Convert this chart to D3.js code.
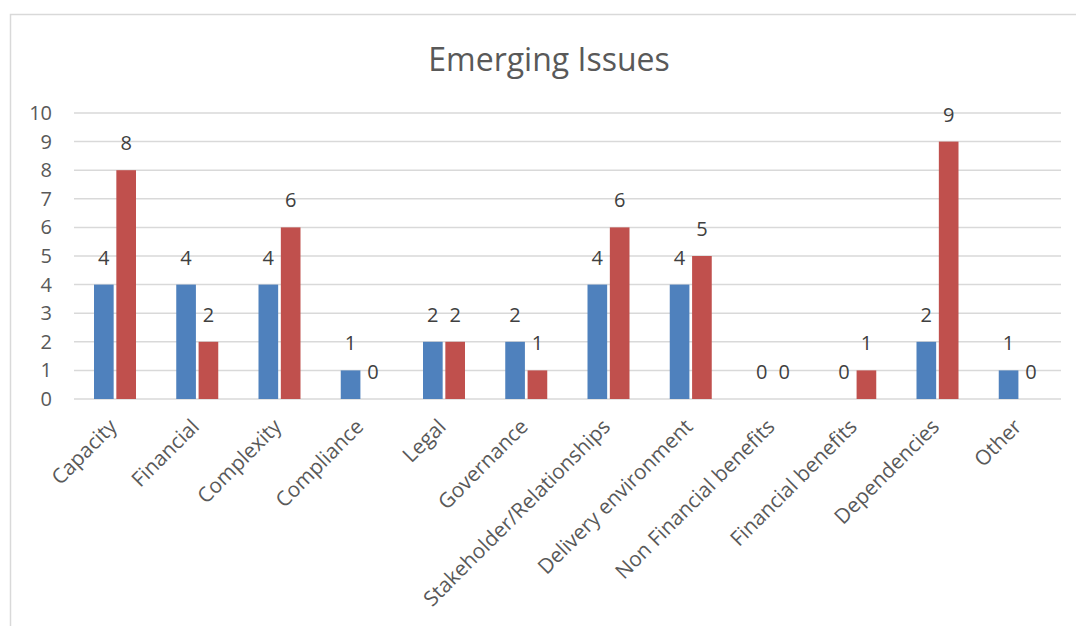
<!DOCTYPE html>
<html>
<head>
<meta charset="utf-8">
<script src="https://cdn.jsdelivr.net/npm/d3@7"></script>
<style>
  body { margin: 0; background: #fff; }
  svg text { font-family: "Open Sans", sans-serif; }
</style>
</head>
<body>
<svg id="chart" width="1076" height="626"></svg>
<script>
// data
var categories = ["Capacity", "Financial", "Complexity", "Compliance", "Legal", "Governance",
  "Stakeholder/Relationships", "Delivery environment", "Non Financial benefits",
  "Financial benefits", "Dependencies", "Other"];
var seriesA = [4, 4, 4, 1, 2, 2, 4, 4, 0, 0, 2, 1];
var seriesB = [8, 2, 6, 0, 2, 1, 6, 5, 0, 1, 9, 0];
var yTicks = [0, 1, 2, 3, 4, 5, 6, 7, 8, 9, 10];

var colors = ["#4f81bd", "#c0504d"];

var svg = d3.select("#chart");

// chart border
svg.append("rect")
  .attr("x", 10.5).attr("y", 14.5)
  .attr("width", 1080).attr("height", 640)
  .attr("fill", "none").attr("stroke", "#d9d9d9").attr("stroke-width", 1.5);

svg.append("text")
  .attr("x", 549).attr("y", 71)
  .attr("text-anchor", "middle")
  .attr("font-size", 32)
  .attr("fill", "#595959")
  .text("Emerging Issues");

var margin = { left: 74, top: 113, right: 1061, bottom: 399 };

var x = d3.scaleBand().domain(categories).range([margin.left, margin.right]);
var sub = d3.scaleBand().domain([0, 1]).range([20, 62]).paddingInner(0.12);
var y = d3.scaleLinear().domain([0, 10]).range([margin.bottom, margin.top]);

// gridlines
svg.append("g").selectAll("line")
  .data(yTicks)
  .enter().append("line")
  .attr("x1", margin.left).attr("x2", margin.right)
  .attr("y1", function (d) { return y(d); })
  .attr("y2", function (d) { return y(d); })
  .attr("stroke", "#d9d9d9").attr("stroke-width", 1.5);

// y axis labels
var yAxis = svg.append("g")
  .attr("transform", "translate(" + (margin.left - 22) + ",0)")
  .call(d3.axisLeft(y).tickValues(yTicks).tickSize(0).tickPadding(0));
yAxis.select(".domain").remove();
yAxis.selectAll("text")
  .attr("font-size", 20)
  .attr("fill", "#595959")
  .attr("font-family", "Open Sans, sans-serif");

// bars
var groups = [seriesA, seriesB];
groups.forEach(function (vals, s) {
  var g = svg.append("g");
  g.selectAll("rect")
    .data(vals)
    .enter().append("rect")
    .attr("x", function (d, i) { return x(categories[i]) + sub(s); })
    .attr("y", function (d) { return y(d); })
    .attr("width", sub.bandwidth())
    .attr("height", function (d) { return y(0) - y(d); })
    .attr("fill", colors[s]);

  g.selectAll("text")
    .data(vals)
    .enter().append("text")
    .attr("x", function (d, i) { return x(categories[i]) + sub(s) + sub.bandwidth() / 2; })
    .attr("y", function (d) { return y(d) - 20; })
    .attr("text-anchor", "middle")
    .attr("font-size", 20)
    .attr("fill", "#404040")
    .text(function (d) { return d; });
});

// x axis labels
svg.append("g").selectAll("text")
  .data(categories)
  .enter().append("text")
  .attr("transform", function (d) {
    return "translate(" + (x(d) + x.bandwidth() / 2 + 3) + "," + (margin.bottom + 29) + ") rotate(-45)";
  })
  .attr("text-anchor", "end")
  .attr("font-size", 20.8)
  .attr("fill", "#595959")
  .text(function (d) { return d; });
</script>
</body>
</html>
